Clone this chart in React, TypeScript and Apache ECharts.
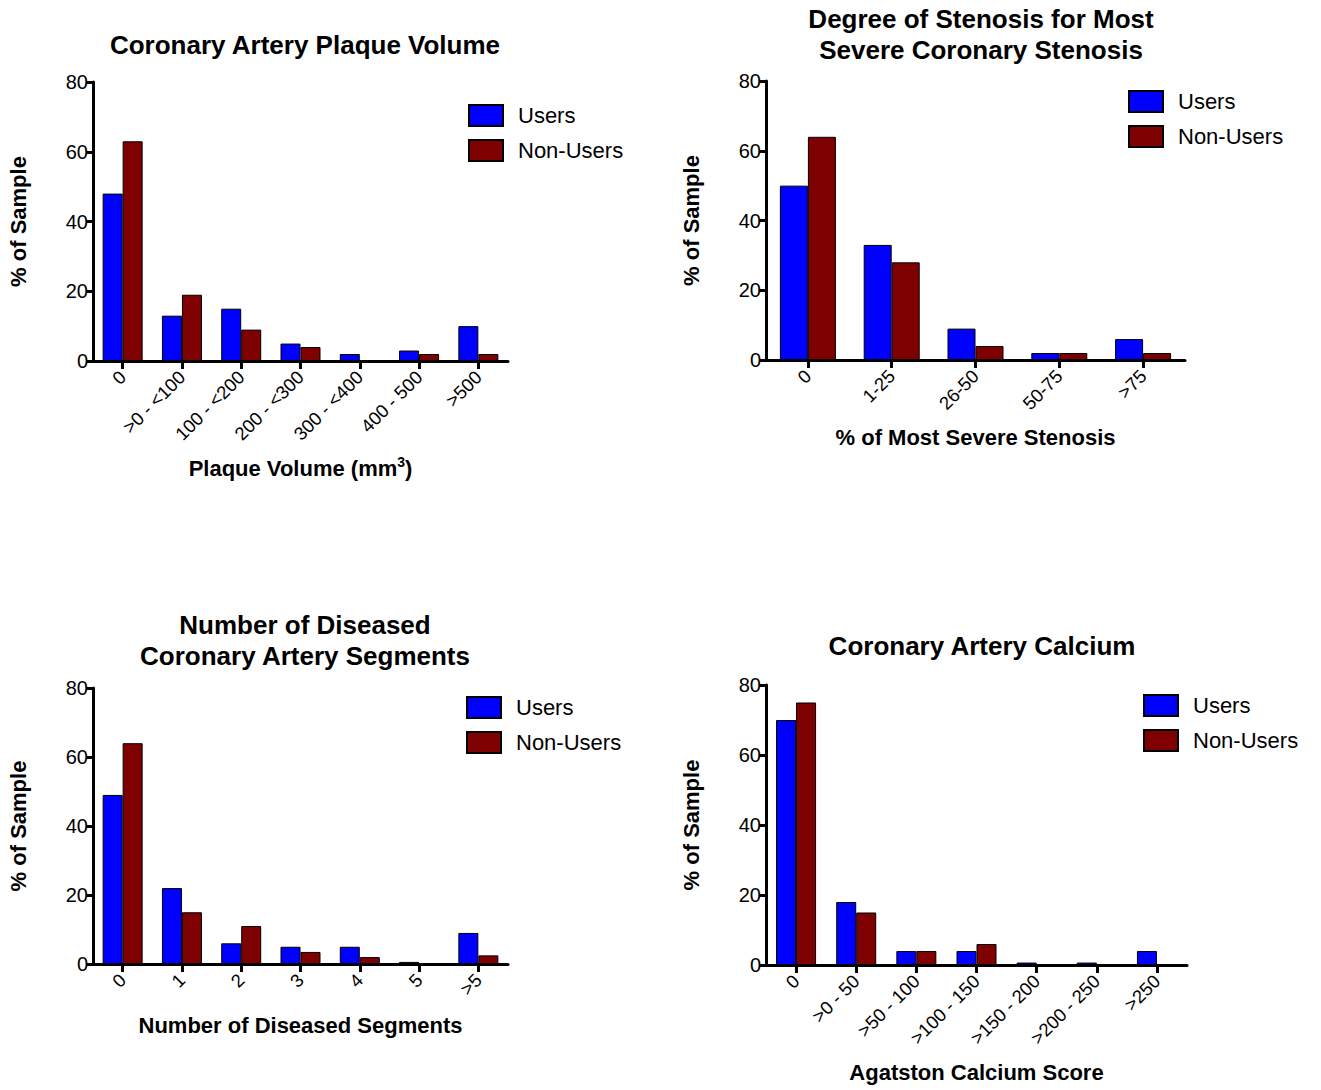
import React, { useEffect, useRef } from "react";
import * as echarts from "echarts";

const seriesNames = ["Users", "Non-Users"];
const yTicks = [0, 20, 40, 60, 80];

const plaqueCats = ["0", ">0 - <100", "100 - <200", "200 - <300", "300 - <400", "400 - 500", ">500"];
const plaqueUsers = [48, 13, 15, 5, 2, 3, 10];
const plaqueNon = [63, 19, 9, 4, 0, 2, 2];

const stenosisCats = ["0", "1-25", "26-50", "50-75", ">75"];
const stenosisUsers = [50, 33, 9, 2, 6];
const stenosisNon = [64, 28, 4, 2, 2];

const segmentCats = ["0", "1", "2", "3", "4", "5", ">5"];
const segmentUsers = [49, 22, 6, 5, 5, 0.6, 9];
const segmentNon = [64, 15, 11, 3.5, 2, 0, 2.5];

const calciumCats = ["0", ">0 - 50", ">50 - 100", ">100 - 150", ">150 - 200", ">200 - 250", ">250"];
const calciumUsers = [70, 18, 4, 4, 0.7, 0.7, 4];
const calciumNon = [75, 15, 4, 6, 0, 0, 0];

const FONT = "Liberation Sans, Arial, Helvetica, sans-serif";
const BLUE = "#0000FF";
const RED = "#7F0000";

type Panel = {
  title: string;
  titleX: number;
  titleY: number;
  xName: string;
  cats: string[];
  users: number[];
  non: number[];
  grid: { left: number; top: number; width: number; height: number };
  barWidth: number;
  xNameGap: number;
  legend: { left: number; top: number };
};

const panels: Panel[] = [
  {
    title: "Coronary Artery Plaque Volume",
    titleX: 300,
    titleY: 24,
    xName: "{b|Plaque Volume (mm}{sup|3}{b|)}",
    cats: plaqueCats,
    users: plaqueUsers,
    non: plaqueNon,
    grid: { left: 93, top: 82, width: 415, height: 279 },
    barWidth: 20,
    xNameGap: 94,
    legend: { left: 468, top: 104 },
  },
  {
    title: "Degree of Stenosis for Most\nSevere Coronary Stenosis",
    titleX: 976,
    titleY: -2,
    xName: "% of Most Severe Stenosis",
    cats: stenosisCats,
    users: stenosisUsers,
    non: stenosisNon,
    grid: { left: 766, top: 81, width: 419, height: 279 },
    barWidth: 28,
    xNameGap: 66,
    legend: { left: 1128, top: 90 },
  },
  {
    title: "Number of Diseased\nCoronary Artery Segments",
    titleX: 300,
    titleY: 604,
    xName: "Number of Diseased Segments",
    cats: segmentCats,
    users: segmentUsers,
    non: segmentNon,
    grid: { left: 93, top: 688, width: 415, height: 276 },
    barWidth: 20,
    xNameGap: 50,
    legend: { left: 466, top: 696 },
  },
  {
    title: "Coronary Artery Calcium",
    titleX: 977,
    titleY: 625,
    xName: "Agatston Calcium Score",
    cats: calciumCats,
    users: calciumUsers,
    non: calciumNon,
    grid: { left: 766, top: 685, width: 421, height: 280 },
    barWidth: 20,
    xNameGap: 96,
    legend: { left: 1143, top: 694 },
  },
];

function buildOption() {
  const title: any[] = [];
  const grid: any[] = [];
  const xAxis: any[] = [];
  const yAxis: any[] = [];
  const series: any[] = [];
  const legend: any[] = [];

  panels.forEach((p, i) => {
    title.push({
      text: p.title,
      left: p.titleX,
      top: p.titleY,
      textAlign: "center",
      textStyle: {
        fontFamily: FONT,
        fontWeight: "bold",
        fontSize: 26,
        lineHeight: 31,
        color: "#000",
      },
    });
    grid.push({ ...p.grid, containLabel: false });
    xAxis.push({
      type: "category",
      gridIndex: i,
      data: p.cats,
      name: p.xName,
      nameLocation: "middle",
      nameGap: p.xNameGap,
      nameTextStyle: {
        fontFamily: FONT,
        fontWeight: "bold",
        fontSize: 22,
        color: "#000",
        rich: {
          b: { fontFamily: FONT, fontWeight: "bold", fontSize: 22, color: "#000" },
          sup: {
            fontFamily: FONT,
            fontWeight: "bold",
            fontSize: 14,
            color: "#000",
            padding: [0, 0, 12, 0],
          },
        },
      },
      axisLine: { show: true, lineStyle: { color: "#000", width: 3 } },
      axisTick: { show: true, alignWithLabel: true, length: 8, lineStyle: { color: "#000", width: 3 } },
      axisLabel: {
        rotate: 45,
        margin: 13,
        fontFamily: FONT,
        fontSize: 18.5,
        color: "#000",
        interval: 0,
      },
      splitLine: { show: false },
    });
    yAxis.push({
      type: "value",
      gridIndex: i,
      min: yTicks[0],
      max: yTicks[yTicks.length - 1],
      interval: 20,
      name: "% of Sample",
      nameLocation: "middle",
      nameRotate: 90,
      nameGap: 64,
      nameTextStyle: { fontFamily: FONT, fontWeight: "bold", fontSize: 22, color: "#000" },
      axisLine: { show: true, lineStyle: { color: "#000", width: 3 } },
      axisTick: { show: true, length: 7, lineStyle: { color: "#000", width: 3 } },
      axisLabel: { fontFamily: FONT, fontSize: 20, color: "#000", margin: 5 },
      splitLine: { show: false },
    });
    const mk = (name: string, data: number[], color: string) => ({
      type: "bar",
      name,
      xAxisIndex: i,
      yAxisIndex: i,
      data,
      barWidth: p.barWidth,
      barGap: "0%",
      itemStyle: { color, borderColor: "#000", borderWidth: 1 },
    });
    series.push(mk(seriesNames[0], p.users, BLUE));
    series.push(mk(seriesNames[1], p.non, RED));
    legend.push({
      orient: "vertical",
      left: p.legend.left,
      top: p.legend.top,
      itemWidth: 34,
      itemHeight: 21,
      itemGap: 12,
      padding: 0,
      data: seriesNames,
      icon: "rect",
      selectedMode: false,
      textStyle: {
        fontFamily: FONT,
        fontSize: 22,
        lineHeight: 22,
        color: "#000",
        padding: [0, 0, 0, 10],
      },
    });
  });

  return {
    animation: false,
    backgroundColor: "#fff",
    title,
    grid,
    xAxis,
    yAxis,
    series,
    legend,
  };
}

export default function App() {
  const ref = useRef<HTMLDivElement>(null);
  useEffect(() => {
    if (!ref.current) return;
    const chart = echarts.init(ref.current, undefined, { renderer: "svg" });
    chart.setOption(buildOption() as any);
    return () => chart.dispose();
  }, []);
  return (
    <div
      ref={ref}
      style={{ position: "fixed", left: 0, top: 0, width: 1321, height: 1090, background: "#fff" }}
    />
  );
}
